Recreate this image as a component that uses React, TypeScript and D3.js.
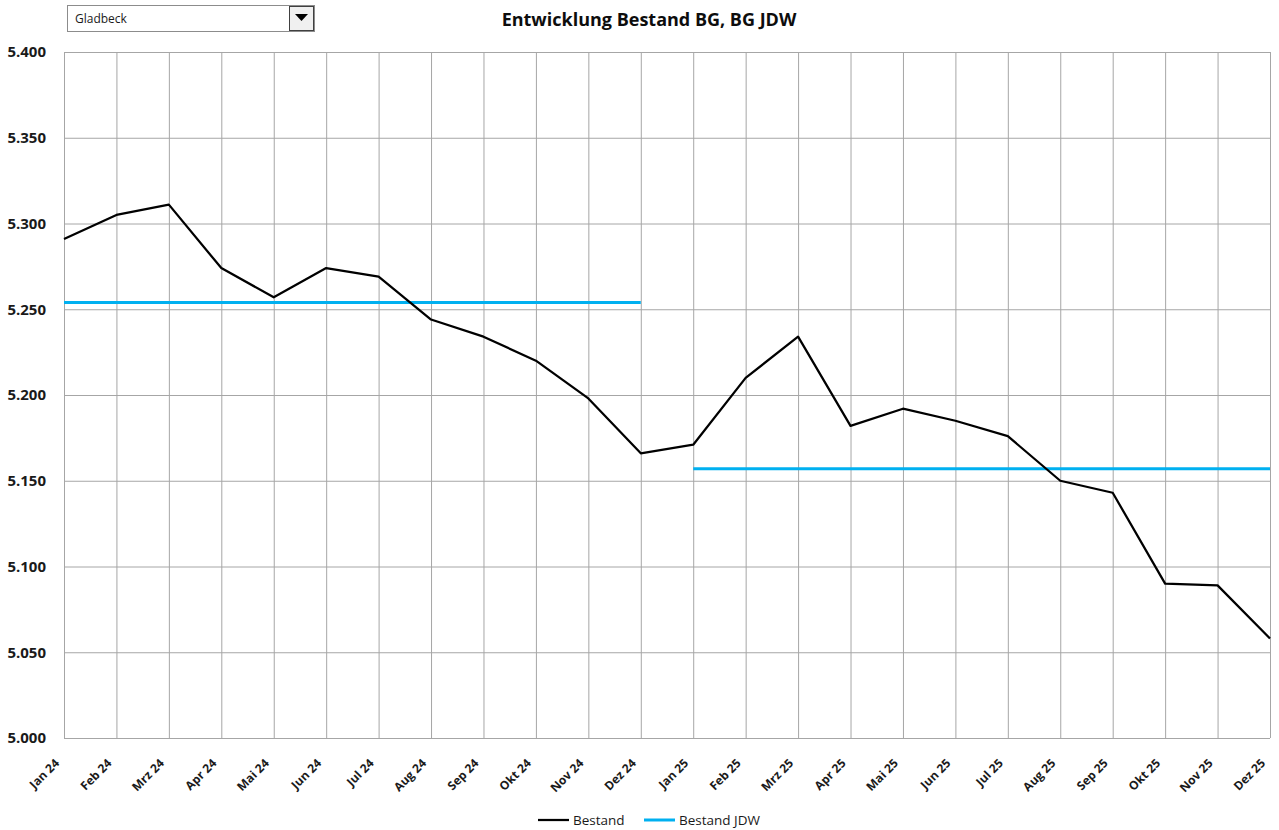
import React, { useRef, useEffect } from "react";
import * as d3 from "d3";

const months = [
  "Jan 24", "Feb 24", "Mrz 24", "Apr 24", "Mai 24", "Jun 24", "Jul 24", "Aug 24", "Sep 24", "Okt 24", "Nov 24", "Dez 24",
  "Jan 25", "Feb 25", "Mrz 25", "Apr 25", "Mai 25", "Jun 25", "Jul 25", "Aug 25", "Sep 25", "Okt 25", "Nov 25", "Dez 25",
];
const bestand = [
  5291, 5305, 5311, 5274, 5257, 5274, 5269, 5244, 5234, 5220, 5198, 5166,
  5171, 5210, 5234, 5182, 5192, 5185, 5176, 5150, 5143, 5090, 5089, 5058,
];
const bestandJdw = [
  { from: "Jan 24", to: "Dez 24", value: 5254 },
  { from: "Jan 25", to: "Dez 25", value: 5157 },
];
const yTicks = [5000, 5050, 5100, 5150, 5200, 5250, 5300, 5350, 5400];

const FONT = "'Open Sans', sans-serif";
const fmt = (v: number) => d3.format(".3f")(v / 1000);

const App = () => {
  const chart = useRef<SVGSVGElement>(null);

  useEffect(() => {
    const width = 1279, height = 830;
    const margin = { top: 52, right: 9, bottom: 92, left: 64 };

    const svg = d3.select(chart.current).attr("width", width).attr("height", height);
    svg.selectAll("*").remove();

    const x = d3.scalePoint<string>().domain(months).range([margin.left, width - margin.right]);
    const y = d3.scaleLinear().domain([5000, 5400]).range([height - margin.bottom, margin.top]);

    // grid
    svg.append("g")
      .attr("stroke", "#a6a6a6")
      .selectAll("line")
      .data(yTicks)
      .join("line")
      .attr("x1", margin.left).attr("x2", width - margin.right)
      .attr("y1", d => y(d) + 0.5).attr("y2", d => y(d) + 0.5);
    svg.append("g")
      .attr("stroke", "#a6a6a6")
      .selectAll("line")
      .data(months)
      .join("line")
      .attr("x1", d => x(d)! + 0.5).attr("x2", d => x(d)! + 0.5)
      .attr("y1", margin.top).attr("y2", height - margin.bottom);

    // y labels
    svg.append("g")
      .selectAll("text")
      .data(yTicks)
      .join("text")
      .attr("x", margin.left - 18)
      .attr("y", d => y(d))
      .attr("dy", "0.35em")
      .attr("text-anchor", "end")
      .attr("font-family", FONT)
      .attr("font-weight", "bold")
      .attr("font-size", 15)
      .attr("fill", "#1a1a1a")
      .text(d => fmt(d));

    // x labels
    svg.append("g")
      .selectAll("text")
      .data(months)
      .join("text")
      .attr("transform", d => `translate(${x(d)! - 4},${height - margin.bottom + 26}) rotate(-45)`)
      .attr("text-anchor", "end")
      .attr("font-family", FONT)
      .attr("font-weight", "bold")
      .attr("font-size", 12)
      .attr("fill", "#1a1a1a")
      .text(d => d);

    // JDW segments
    svg.append("g")
      .selectAll("line")
      .data(bestandJdw)
      .join("line")
      .attr("x1", d => x(d.from)!).attr("x2", d => x(d.to)!)
      .attr("y1", d => y(d.value)).attr("y2", d => y(d.value))
      .attr("stroke", "#00b0f0")
      .attr("stroke-width", 3);

    // Bestand line
    const line = d3.line<number>().x((d, i) => x(months[i])!).y(d => y(d));
    svg.append("path")
      .datum(bestand)
      .attr("d", line)
      .attr("fill", "none")
      .attr("stroke", "#000")
      .attr("stroke-width", 2.25)
      .attr("stroke-linejoin", "round");

    // title
    svg.append("text")
      .attr("x", 649).attr("y", 26)
      .attr("text-anchor", "middle")
      .attr("font-family", FONT)
      .attr("font-weight", "bold")
      .attr("font-size", 18)
      .attr("fill", "#0d0d0d")
      .text("Entwicklung Bestand BG, BG JDW");

    // dropdown
    const dd = svg.append("g");
    dd.append("rect").attr("x", 67.5).attr("y", 5.5).attr("width", 247).attr("height", 26)
      .attr("fill", "#fff").attr("stroke", "#8c8c8c");
    dd.append("rect").attr("x", 289.5).attr("y", 6.5).attr("width", 24).attr("height", 24)
      .attr("fill", "#f0f0f0").attr("stroke", "#404040");
    dd.append("path").attr("d", "M295,14 L308,14 L301.5,21 Z").attr("fill", "#000");
    dd.append("text").attr("x", 75).attr("y", 23)
      .attr("font-family", FONT).attr("font-size", 12).attr("fill", "#1a1a1a")
      .text("Gladbeck");

    // legend
    const legend = [
      { label: "Bestand", color: "#000", w: 2.25, x: 538 },
      { label: "Bestand JDW", color: "#00b0f0", w: 3, x: 644 },
    ];
    const lg = svg.append("g").selectAll("g").data(legend).join("g")
      .attr("transform", d => `translate(${d.x},820)`);
    lg.append("line").attr("x1", 0).attr("x2", 31).attr("stroke", d => d.color).attr("stroke-width", d => d.w);
    lg.append("text").attr("x", 35).attr("dy", "0.35em")
      .attr("font-family", FONT).attr("font-size", 13.5).attr("fill", "#1a1a1a")
      .text(d => d.label);
  }, []);

  return (
    <div style={{ position: "absolute", left: 0, top: 0, background: "#fff" }}>
      <svg ref={chart} style={{ display: "block" }} />
    </div>
  );
};

export default App;
